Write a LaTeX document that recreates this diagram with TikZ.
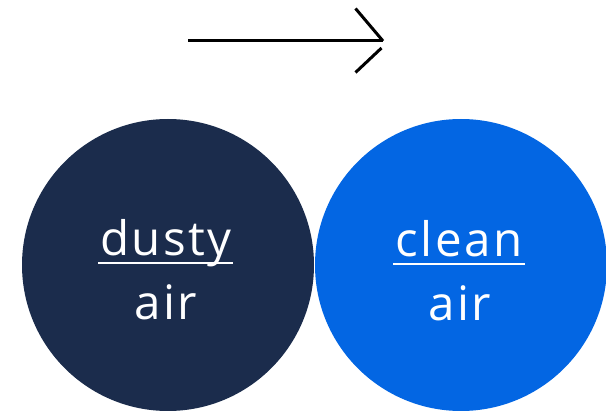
\documentclass[tikz,border=0pt]{standalone}
\usepackage{fontspec}
\setmainfont{Open Sans}[LetterSpace=5]
\definecolor{navy}{RGB}{27,44,76}
\definecolor{brightblue}{RGB}{3,102,227}
\begin{document}
\begin{tikzpicture}[x=1pt,y=-1pt,
  disc/.style={circle,inner sep=0pt,minimum size=292pt},
  word/.style={text=white,font=\fontsize{47.5}{50}\selectfont,inner sep=0pt,anchor=base},
  uline/.style={white,line width=2pt},
  arrowline/.style={black,line width=3pt}]
\useasboundingbox (0,0) rectangle (606,414);
\node[disc,fill=navy] (dark) at (168,265) {};
\node[disc,fill=brightblue] (blue) at (461,265) {};
\node[word] (dusty) at (166,256) {dusty};
\node[word] (air1) at (166,320) {air};
\node[word] (clean) at (459,257) {clean};
\node[word] (air2) at (460,321) {air};
\draw[uline] (98,263) -- (233,263);
\draw[uline] (393,264) -- (525,264);
\coordinate (s) at (188,41);
\coordinate (t) at (383,41);
\coordinate (h1) at (355.5,8.5);
\coordinate (h2a) at (381.5,48);
\coordinate (h2b) at (355.5,72.5);
\draw[arrowline] (s) -- (t);
\draw[arrowline] (h1) -- (t);
\draw[arrowline] (h2a) -- (h2b);
\end{tikzpicture}
\end{document}
